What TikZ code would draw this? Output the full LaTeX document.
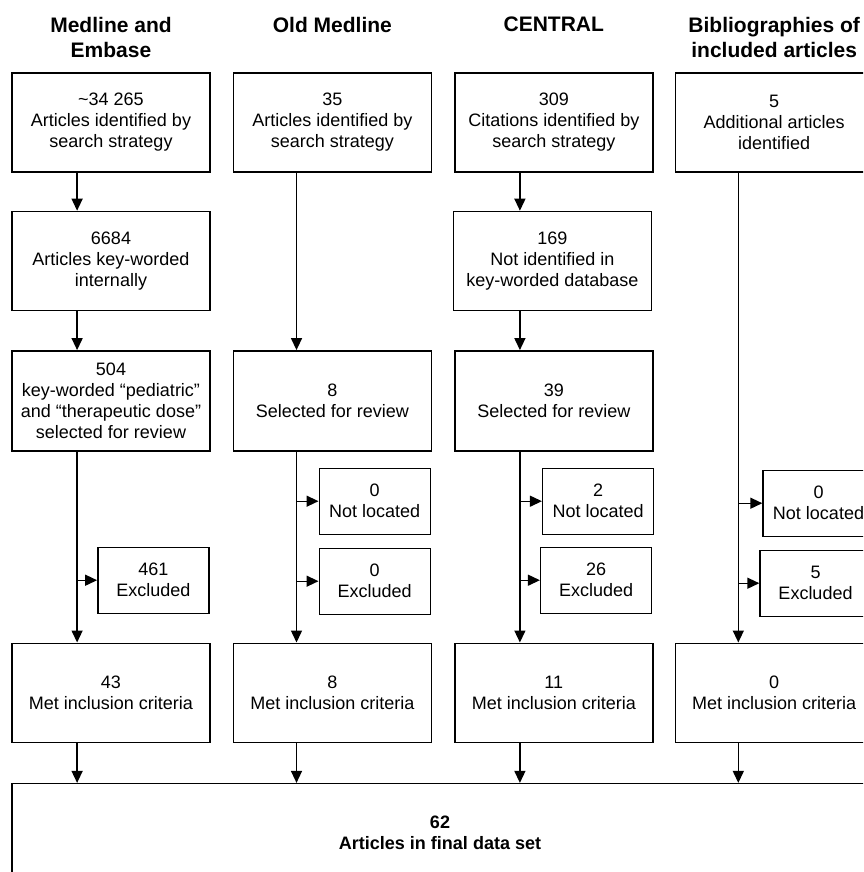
\documentclass[tikz,border=0pt]{standalone}
\usepackage{fontspec}
\setmainfont{Liberation Sans}
\usepackage{tikz}
\usetikzlibrary{positioning, calc, arrows.meta}
\tikzstyle{block} = [rectangle, draw=black, fill=white, minimum width=198pt, minimum height=99pt, inner sep=2pt, text centered, align=center, line width=1.4pt, font=\fontsize{18}{21}\selectfont]
\tikzstyle{smallblock} = [block, minimum width=111pt, minimum height=66pt]
\tikzstyle{head} = [align=center, inner sep=0pt, anchor=north, font=\bfseries\fontsize{21}{25}\selectfont]
\tikzstyle{arrow} = [line width=1.4pt, -{Triangle[length=12pt,width=11pt]}]

\begin{document}
\begin{tikzpicture}[x=1pt, y=-1pt, node distance=22pt, auto]
        \clip (0,0) rectangle (863,872);
        \coordinate (top) at (0,17);

        % sources
        \node [block] (med1) at (111,122.5) {\textasciitilde34 265\\Articles identified by\\search strategy};
        \node [block, right=22pt of med1] (old1) {35\\Articles identified by\\search strategy};
        \node [block, right=22pt of old1] (cen1) {309\\Citations identified by\\search strategy};
        \node [block, right=21pt of cen1] (bib1) {5\\Additional articles\\identified};

        \node [head] (hMed) at (med1.north |- top) {Medline and\\Embase};
        \node [head] (hOld) at (old1.north |- top) {Old Medline};
        \node [head] (hCen) at (cen1.north |- top) {CENTRAL};
        \node [head] (hBib) at (bib1.north |- top) {Bibliographies of\\included articles};

        \node [block, below=38pt of med1] (med2) {6684\\Articles key-worded\\internally};
        \node [block, right=242pt of med2] (cen2) {169\\Not identified in\\key-worded database};

        \node [block, below=39pt of med2, minimum height=100pt] (med3) {504\\key-worded “pediatric”\\and “therapeutic dose”\\selected for review};
        \node [block, right=22pt of med3, minimum height=100pt] (old3) {8\\Selected for review};
        \node [block, right=22pt of old3, minimum height=100pt] (cen3) {39\\Selected for review};

        \node [block, below=191pt of med3] (med5) {43\\Met inclusion criteria};
        \node [block, right=22pt of med5] (old5) {8\\Met inclusion criteria};
        \node [block, right=22pt of old5] (cen5) {11\\Met inclusion criteria};
        \node [block, right=21pt of cen5] (bib5) {0\\Met inclusion criteria};

        \node [block, anchor=north west, minimum width=856pt, minimum height=98pt, font=\bfseries\fontsize{18}{21}\selectfont] (final) at ($(med5.south west)+(0pt,-40pt)$) {62\\Articles in final data set};

        % main lines
        \coordinate (l1) at ($(med1.south west)!0.33!(med1.south east)$);
        \coordinate (l2) at ($(old1.south west)!0.32!(old1.south east)$);
        \coordinate (l3) at ($(cen1.south west)!0.33!(cen1.south east)$);
        \coordinate (l4) at ($(bib1.south west)!0.32!(bib1.south east)$);

        % dropped articles
        \node [smallblock, anchor=north west] (medEx) at ($(med3.south -| l1)+(20pt,-95pt)$) {461\\Excluded};
        \node [smallblock, anchor=north west] (oldNot) at ($(old3.south -| l2)+(22pt,-16pt)$) {0\\Not located};
        \node [smallblock, anchor=north west] (oldEx) at ($(old3.south -| l2)+(22pt,-96pt)$) {0\\Excluded};
        \node [smallblock, anchor=north west] (cenNot) at ($(cen3.south -| l3)+(22pt,-16pt)$) {2\\Not located};
        \node [smallblock, anchor=north west] (cenEx) at ($(cen3.south -| l3)+(20pt,-95pt)$) {26\\Excluded};
        \node [smallblock, anchor=north west] (bibNot) at ($(cen3.south -| l4)+(24pt,-18pt)$) {0\\Not located};
        \node [smallblock, anchor=north west] (bibEx) at ($(cen3.south -| l4)+(21pt,-98pt)$) {5\\Excluded};

        \draw [arrow] (med1.south -| l1) -- (med2.north -| l1);
        \draw [arrow] (med2.south -| l1) -- (med3.north -| l1);
        \draw [arrow] (med3.south -| l1) -- (med5.north -| l1);
        \draw [arrow] (old1.south -| l2) -- (old3.north -| l2);
        \draw [arrow] (old3.south -| l2) -- (old5.north -| l2);
        \draw [arrow] (cen1.south -| l3) -- (cen2.north -| l3);
        \draw [arrow] (cen2.south -| l3) -- (cen3.north -| l3);
        \draw [arrow] (cen3.south -| l3) -- (cen5.north -| l3);
        \draw [arrow] (bib1.south -| l4) -- (bib5.north -| l4);

        \draw [arrow] (medEx.west -| l1) -- (medEx.west);
        \draw [arrow] (oldNot.west -| l2) -- (oldNot.west);
        \draw [arrow] (oldEx.west -| l2) -- (oldEx.west);
        \draw [arrow] (cenNot.west -| l3) -- (cenNot.west);
        \draw [arrow] (cenEx.west -| l3) -- (cenEx.west);
        \draw [arrow] (bibNot.west -| l4) -- (bibNot.west);
        \draw [arrow] (bibEx.west -| l4) -- (bibEx.west);

        \draw [arrow] (med5.south -| l1) -- (final.north -| l1);
        \draw [arrow] (old5.south -| l2) -- (final.north -| l2);
        \draw [arrow] (cen5.south -| l3) -- (final.north -| l3);
        \draw [arrow] (bib5.south -| l4) -- (final.north -| l4);
    \end{tikzpicture}
\end{document}
